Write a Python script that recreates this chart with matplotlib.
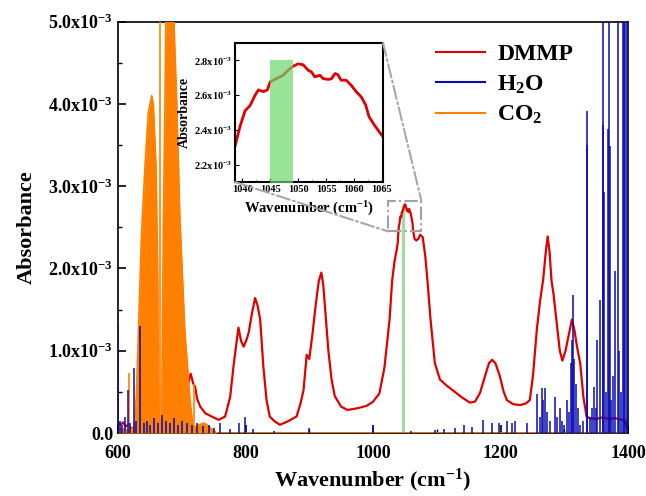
import matplotlib
matplotlib.use("Agg")
import matplotlib.pyplot as plt
from matplotlib.lines import Line2D
from matplotlib.patches import Rectangle, ConnectionPatch
from matplotlib.ticker import MultipleLocator, FuncFormatter
import numpy as np

plt.rcParams['font.family'] = 'Liberation Serif'
plt.rcParams['font.weight'] = 'bold'
plt.rcParams['mathtext.fontset'] = 'custom'
plt.rcParams['mathtext.rm'] = 'Liberation Serif:bold'
plt.rcParams['mathtext.it'] = 'Liberation Serif:italic:bold'
plt.rcParams['mathtext.bf'] = 'Liberation Serif:bold'

# DMMP spectrum (absorbance in units of 1e-3)
dmmp_wn = [600, 604, 608, 612, 616, 620, 625, 630, 640, 655, 670, 685, 695, 700, 703, 706, 710,
           714, 718, 721, 724, 729, 737, 747, 758, 768, 776, 781, 785, 789, 793, 797, 801, 805,
           810, 815, 819, 823, 828, 833, 838, 846, 854, 866, 880, 886, 891, 896, 900, 905, 910,
           915, 919, 922, 926, 930, 935, 940, 950, 960, 975, 990, 1000, 1010, 1018, 1026, 1030,
           1034, 1037,
           1038.7, 1039.6, 1040.5, 1041.4, 1042.3, 1042.9, 1043.8, 1044.5, 1045, 1046.1, 1047.3,
           1048.2, 1049.1, 1050, 1050.9, 1051.8, 1052.4, 1053, 1053.9, 1054.5, 1055.4, 1056,
           1056.6, 1057.1, 1057.7, 1058.6, 1059.5, 1060.4, 1061.3, 1062.1, 1062.7, 1063.6,
           1064.5, 1065.2,
           1068, 1071, 1074, 1078, 1082, 1086, 1090, 1097, 1105, 1115, 1125, 1140, 1152, 1160,
           1168, 1176, 1182, 1187, 1192, 1199, 1205, 1210, 1220, 1231, 1240, 1246, 1251, 1257,
           1262, 1267, 1271, 1274, 1277, 1280, 1283, 1288, 1293, 1297, 1302, 1306, 1312, 1316,
           1320, 1325, 1330, 1335, 1340, 1350, 1360, 1370, 1380, 1390, 1396, 1398, 1400]
dmmp_abs = [0.12, 0.10, 0.13, 0.08, 0.10, 0.06, 0.06, 0.05, 0.04, 0.04, 0.05, 0.06, 0.10, 0.25,
            0.35, 0.49, 0.60, 0.72, 0.60, 0.56, 0.42, 0.32, 0.24, 0.20, 0.16, 0.20, 0.44, 0.80,
            1.05, 1.28, 1.12, 1.05, 1.12, 1.22, 1.45, 1.64, 1.55, 1.38, 0.81, 0.40, 0.20, 0.14,
            0.10, 0.14, 0.20, 0.35, 0.52, 0.95, 0.90, 1.20, 1.55, 1.85, 1.95, 1.80, 1.40, 1.00,
            0.65, 0.45, 0.32, 0.28, 0.30, 0.33, 0.38, 0.48, 0.80, 1.38, 1.85, 2.10, 2.22,
            2.305, 2.42, 2.51, 2.54, 2.60, 2.63, 2.62, 2.63, 2.676, 2.695, 2.714, 2.743, 2.766,
            2.78, 2.775, 2.743, 2.733, 2.705, 2.714, 2.695, 2.69, 2.695, 2.724, 2.718, 2.686,
            2.686, 2.657, 2.62, 2.59, 2.543, 2.476, 2.43, 2.39, 2.36,
            2.34, 2.36, 2.41, 2.38, 2.15, 1.80, 1.40, 0.85, 0.65, 0.58, 0.52, 0.43, 0.37, 0.38,
            0.49, 0.70, 0.85, 0.89, 0.85, 0.69, 0.50, 0.40, 0.35, 0.34, 0.36, 0.40, 0.70, 1.26,
            1.60, 1.87, 2.20, 2.39, 2.20, 1.85, 1.70, 1.35, 1.00, 0.88, 1.00, 1.15, 1.38, 1.25,
            1.05, 0.85, 0.44, 0.20, 0.18, 0.17, 0.19, 0.17, 0.18, 0.16, 0.15, 0.05, 0.02]

# CO2 band envelope (1e-3)
co2_wn = [600, 605, 611, 616, 622, 626, 629, 632, 637, 642.4, 647.6, 652.9, 655.4, 659.6, 662.2,
          663.8, 665, 668.5, 671, 673.7, 675.3, 680, 686.8, 692, 697, 705, 713, 718, 726, 736,
          747, 755, 1400]
co2_abs = [0.02, 0.06, 0.05, 0.03, 0.05, 0.10, 0.50, 1.22, 2.44, 3.25, 3.90, 4.10, 4.00, 3.25,
           2.03, 0.40, 0.05, 0.20, 2.44, 4.06, 5.20, 5.60, 5.20, 4.06, 2.64, 1.22, 0.40, 0.05,
           0.10, 0.12, 0.05, 0.0, 0.0]
co2_line_wn = [617.8, 666.5, 718.7]
co2_line_abs = [0.73, 6.0, 0.60]

# H2O line spectrum (1e-3)
h2o_wn = [600, 603, 607, 611, 615.7, 619, 624.6, 628, 635, 640, 645, 650, 656, 662, 669, 675,
          681, 688, 694, 701, 708, 716, 724, 733, 742, 751, 760, 775, 790, 799, 812, 845, 900,
          1000, 1060, 1097, 1112, 1128, 1142, 1155, 1173, 1186, 1197, 1210, 1218, 1223, 1241,
          1258, 1262, 1265, 1267, 1270, 1273, 1278, 1285, 1289, 1293, 1297, 1300, 1304, 1307,
          1310, 1312, 1314, 1316, 1318, 1321, 1325, 1329, 1335, 1336, 1340, 1344, 1347, 1350,
          1352, 1356, 1360, 1361, 1363, 1366, 1368, 1370, 1371, 1374, 1377, 1380, 1384, 1386,
          1389, 1392, 1394, 1396, 1398, 1400]
h2o_abs = [1.32, 0.15, 0.10, 0.20, 0.52, 0.12, 0.79, 0.15, 1.30, 0.12, 0.15, 0.10, 0.18, 0.12,
           0.22, 0.15, 0.12, 0.18, 0.10, 0.15, 0.12, 0.10, 0.12, 0.08, 0.10, 0.06, 0.12, 0.05,
           0.12, 0.20, 0.05, 0.03, 0.06, 0.08, 0.03, 0.04, 0.05, 0.06, 0.10, 0.07, 0.16, 0.12,
           0.12, 0.15, 0.12, 0.15, 0.12, 0.48, 0.20, 0.55, 0.40, 0.55, 0.25, 0.15, 0.44, 0.20,
           0.30, 0.15, 0.10, 0.40, 0.25, 0.85, 1.13, 1.68, 0.90, 0.60, 0.30, 0.10, 0.15, 3.92,
           3.50, 0.20, 0.30, 0.56, 0.30, 1.13, 1.62, 6.0, 3.74, 2.93, 0.50, 3.70, 6.0, 3.49,
           0.40, 0.69, 1.97, 6.0, 1.00, 0.50, 6.0, 6.0, 6.0, 6.0, 0.30]

x_ticks = [600, 800, 1000, 1200, 1400]
inset_ticks = [1040, 1045, 1050, 1055, 1060, 1065]

red = '#e00000'
blue = '#0a0ab4'
orange = '#ff8000'

dmmp_x = np.array(dmmp_wn)
dmmp_y = np.array(dmmp_abs) * 1e-3

fig = plt.figure(figsize=(6.46, 4.96), dpi=100)
ax = fig.add_axes([118 / 646, 1 - 433 / 496, 510 / 646, 411.3 / 496])

# highlighted window
ax.fill_between([1045, 1049], 0, 2.76e-3, color='#a8d8a8', zorder=1)
ax.plot(dmmp_x, dmmp_y, color=red, lw=1.6, zorder=2)
ax.fill_between(co2_wn, 0, np.array(co2_abs) * 1e-3, color=orange, lw=0, zorder=3)
ax.plot(co2_wn, np.array(co2_abs) * 1e-3, color=orange, lw=1.2, zorder=3)
ax.vlines(co2_line_wn, 0, np.array(co2_line_abs) * 1e-3, color=orange, lw=1.2, zorder=3)
ax.vlines(h2o_wn, 0, np.array(h2o_abs) * 1e-3, color=blue, lw=1.1, zorder=4)

ax.set_xlim(600, 1400)
ax.set_ylim(0, 5e-3)
ax.set_xticks(x_ticks)
ax.xaxis.set_minor_locator(MultipleLocator(100))
ax.yaxis.set_major_locator(MultipleLocator(1e-3))
ax.yaxis.set_minor_locator(MultipleLocator(0.5e-3))
ax.yaxis.set_major_formatter(FuncFormatter(
    lambda v, p: '0.0' if abs(v) < 1e-9 else '%.1fx10$^{-3}$' % (v * 1e3)))
ax.tick_params(which='both', direction='in', labelsize=13)
ax.tick_params(axis='x', pad=9)
ax.tick_params(which='major', length=6, width=1.2)
ax.tick_params(which='minor', length=3, width=1.0)
for s in ax.spines.values():
    s.set_linewidth(1.2)
ax.set_xlabel('Wavenumber (cm$^{-1}$)', fontsize=16, fontweight='bold', labelpad=3)
ax.set_ylabel('Absorbance', fontsize=16, fontweight='bold', labelpad=8)

# zoom box
ax.add_patch(Rectangle((1024, 2.45e-3), 52, 0.37e-3, fill=False, ls='-.', lw=1.5,
                       ec='#a0a0a0', zorder=5))

handles = [Line2D([], [], color=red, lw=1.5),
           Line2D([], [], color=blue, lw=1.5),
           Line2D([], [], color=orange, lw=1.5)]
fig.legend(handles, ['DMMP', 'H$_2$O', 'CO$_2$'], loc='upper left',
           bbox_to_anchor=(424 / 646, 1 - 32 / 496), frameon=False,
           prop={'size': 17, 'weight': 'bold'}, handlelength=2.1, handletextpad=0.5,
           labelspacing=0.35, borderpad=0)

# inset
axin = fig.add_axes([235 / 646, 1 - 182 / 496, 148 / 646, 139 / 496])
axin.plot(dmmp_x, dmmp_y, color=red, lw=2.0, zorder=2)
axin.fill_between([1045, 1049], 2.0e-3, 2.805e-3, color='#6ed86e', alpha=0.7, lw=0, zorder=3)
axin.set_xlim(1038.7, 1065.2)
axin.set_ylim(2.1e-3, 2.9e-3)
axin.set_xticks(inset_ticks)
axin.xaxis.set_minor_locator(MultipleLocator(2.5))
axin.yaxis.set_major_locator(MultipleLocator(0.2e-3))
axin.yaxis.set_major_formatter(FuncFormatter(lambda v, p: '%.1fx10$^{-3}$' % (v * 1e3)))
axin.tick_params(which='both', direction='in', labelsize=7.5, pad=2)
axin.tick_params(which='major', length=3)
axin.tick_params(which='minor', length=1.5)
for s in axin.spines.values():
    s.set_linewidth(1.5)
axin.set_xlabel('Wavenumber (cm$^{-1}$)', fontsize=10.5, fontweight='bold', labelpad=4)
axin.set_ylabel('Absorbance', fontsize=10, fontweight='bold', labelpad=2)

for xy_in, xy_main in [((1, 1), (1076, 2.82e-3)), ((0, 0), (1024, 2.45e-3))]:
    con = ConnectionPatch(xyA=xy_in, coordsA=axin.transAxes, xyB=xy_main, coordsB=ax.transData,
                          ls='-.', lw=1.5, color='#a8a8a8', zorder=5)
    fig.add_artist(con)

fig.savefig('out.png', dpi=100)
